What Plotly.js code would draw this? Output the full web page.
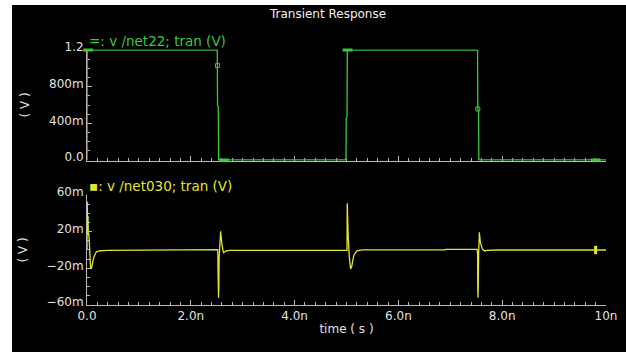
<!DOCTYPE html>
<html>
<head>
<meta charset="utf-8">
<script src="https://cdn.plot.ly/plotly-3.0.1.min.js"></script>
<style>
  html, body { margin: 0; padding: 0; background: #ffffff; width: 626px; height: 352px; overflow: hidden; }
  #chart { position: absolute; left: 12px; top: 5px; width: 614px; height: 347px; }
</style>
</head>
<body>
<div id="chart"></div>
<script>
// ---- data (time in ns) ----
const chartTitle = "Transient Response";
const xTickVals = [0, 2, 4, 6, 8, 10];
const xTickText = ["0.0", "2.0n", "4.0n", "6.0n", "8.0n", "10n"];
const topTickVals = [0, 0.4, 0.8, 1.2];
const topTickText = ["0.0", "400m", "800m", "1.2"];
const botTickVals = [-60, -20, 20, 60];          // mV
const botTickText = ["\u221260m", "\u221220m", "20m", "60m"];

// v /net22 (V)
const timeNet22 = [0, 0.003, 2.51, 2.515, 2.53, 2.535, 4.99, 4.995, 5.01, 5.015, 7.525, 7.53, 7.545, 7.55, 10];
const vNet22    = [0, 1.2,   1.2,  0.6,   0.58, 0,     0,    0.46,  0.48, 1.2,   1.2,   0.556, 0.52,  0,    0];
// markers on net22
const markNet22T = [0.02, 5.02, 2.64, 9.8];
const markNet22V = [1.2, 1.2, 0, 0];
const markNet22HollowT = [2.515, 7.53];
const markNet22HollowV = [1.03, 0.556];

// v /net030 (mV)
const timeNet030 = [0, 0.004, 0.010, 0.015, 0.020, 0.025, 0.030, 0.035, 0.045, 0.070, 0.090, 0.130, 0.180, 0.250, 0.400,
  1.900, 1.910, 2.500, 2.520, 2.525, 2.528, 2.531, 2.534, 2.537, 2.540, 2.545, 2.575, 2.600, 2.630, 2.680, 2.750,
  4.990, 5.010, 5.014, 5.018, 5.021, 5.024, 5.027, 5.030, 5.035, 5.055, 5.080, 5.100, 5.140, 5.200, 5.300,
  6.900, 6.910, 7.520, 7.526, 7.529, 7.532, 7.535, 7.538, 7.541, 7.546, 7.560, 7.580, 7.620, 7.660, 7.700, 7.900, 10];
const vNet030 = [0, 53, 30, 17, 37, 17, 35, 18, 8, -20.5, -19, -8, -2, -0.8, -0.3,
  -0.3, 0.5, 0.5, 0.5, -26, -44, -27, -52, -30, -42, -10, 20.5, 6, -3, -1, -0.3,
  -0.3, -0.3, 51, 32, 13, 32, 14, 30, 12, -8, -20.7, -18, -6, -1, 0.2,
  0.2, 0.6, 0.6, -5, -43, -8, -52, -12, -40, -5, 19.3, 8, 1, -1, -0.3, 0, 0];
const markNet030T = [9.8];
const markNet030V = [0];

const green = "#3cc83c";
const yellow = "#e4e42a";
const axisCol = "#b8b8b8";
const textCol = "#e0e0e0";
const fontFam = "DejaVu Sans, Verdana, sans-serif";

const traces = [
  { x: timeNet22, y: vNet22, xaxis: "x", yaxis: "y", mode: "lines", line: { color: green, width: 1.3 }, hoverinfo: "skip" },
  { x: markNet22T, y: markNet22V, xaxis: "x", yaxis: "y", mode: "markers", cliponaxis: false,
    marker: { symbol: "line-ew", size: 7, color: green, line: { color: green, width: 3 } } },
  { x: markNet22HollowT, y: markNet22HollowV, xaxis: "x", yaxis: "y", mode: "markers", cliponaxis: false,
    marker: { symbol: "square-open", size: 4, color: green, line: { color: green, width: 1 } } },
  { x: timeNet030, y: vNet030, xaxis: "x2", yaxis: "y2", mode: "lines", line: { color: yellow, width: 1.3 } },
  { x: markNet030T, y: markNet030V, xaxis: "x2", yaxis: "y2", mode: "markers", cliponaxis: false,
    marker: { symbol: "line-ns", size: 6, color: yellow, line: { color: yellow, width: 3 } } }
];

const commonX = {
  range: [0, 10], tickvals: xTickVals, ticktext: xTickText,
  ticks: "inside", ticklen: 5, tickcolor: axisCol, tickwidth: 1,
  minor: { dtick: 0.2, ticks: "inside", ticklen: 3, tickcolor: axisCol, tickwidth: 1 },
  showline: true, linecolor: axisCol, linewidth: 1, showgrid: false, zeroline: false,
  layer: "below traces", tickfont: { family: fontFam, size: 12, color: textCol }
};

const layout = {
  width: 614, height: 347,
  paper_bgcolor: "#000000", plot_bgcolor: "#000000",
  margin: { l: 75, r: 20, t: 44, b: 47 },
  showlegend: false,
  font: { family: fontFam, size: 12, color: textCol },
  title: { text: chartTitle, font: { family: fontFam, size: 12, color: "#f0f0f0" },
           xref: "container", yref: "container", x: 0.5147, xanchor: "center", y: 0.974, yanchor: "middle" },
  xaxis: Object.assign({}, commonX, { anchor: "y", domain: [0, 1], showticklabels: false }),
  yaxis: {
    anchor: "x", domain: [0.5643, 0.9982], range: [-0.006, 1.206],
    tickvals: topTickVals, ticktext: topTickText,
    ticks: "inside", ticklen: 5, tickcolor: axisCol, ticklabelshift: -3,
    minor: { dtick: 0.1, ticks: "inside", ticklen: 3, tickcolor: axisCol },
    showline: true, linecolor: axisCol, showgrid: false, zeroline: false, layer: "below traces",
    tickfont: { family: fontFam, size: 12, color: textCol },
    title: { text: "( V )", standoff: 16, font: { family: fontFam, size: 12, color: textCol } }
  },
  xaxis2: Object.assign({}, commonX, { anchor: "y2", domain: [0, 1], matches: "x",
    title: { text: "time ( s )", standoff: 2, font: { family: fontFam, size: 12, color: textCol } } }),
  yaxis2: {
    anchor: "x2", domain: [0, 0.4297], range: [-60, 60],
    tickvals: botTickVals, ticktext: botTickText,
    ticks: "inside", ticklen: 5, tickcolor: axisCol, ticklabelshift: -3,
    minor: { dtick: 10, ticks: "inside", ticklen: 3, tickcolor: axisCol },
    showline: true, linecolor: axisCol, showgrid: false, zeroline: false, layer: "below traces",
    tickfont: { family: fontFam, size: 12, color: textCol },
    title: { text: "( V )", standoff: 16, font: { family: fontFam, size: 12, color: textCol } }
  },
  annotations: [
    { text: "=: v /net22; tran (V)", xref: "paper", yref: "paper", x: 0.0, y: 1.0315,
      xanchor: "left", yanchor: "middle", showarrow: false, font: { family: fontFam, size: 13.5, color: green } },
    { text: "\u25aa: v /net030; tran (V)", xref: "paper", yref: "paper", x: 0.0, y: 0.4646,
      xanchor: "left", yanchor: "middle", showarrow: false, font: { family: fontFam, size: 13.5, color: yellow } }
  ]
};

Plotly.newPlot("chart", traces, layout, { staticPlot: true, displayModeBar: false });
</script>
</body>
</html>
